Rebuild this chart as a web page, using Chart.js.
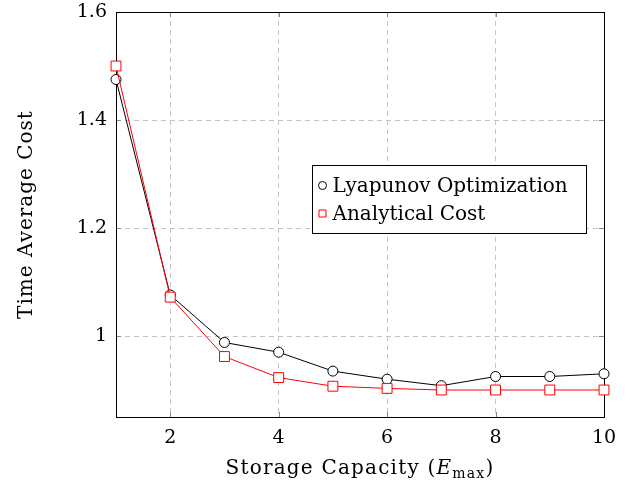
<!DOCTYPE html>
<html>
<head>
<meta charset="utf-8">
<script src="https://cdn.jsdelivr.net/npm/chart.js@4"></script>
<style>
  html, body { margin: 0; padding: 0; background: #fff; }
  #wrap { width: 639px; height: 493px; }
</style>
</head>
<body>
<div id="wrap"><canvas id="costChart" width="639" height="493"></canvas></div>
<script>
// Données
const capacities = [1, 2, 3, 4, 5, 6, 7, 8, 9, 10];
const lyapunovCost = [1.475, 1.076, 0.988, 0.970, 0.935, 0.920, 0.908, 0.925, 0.925, 0.930];
const analyticalCost = [1.500, 1.072, 0.962, 0.923, 0.907, 0.903, 0.900, 0.900, 0.900, 0.900];
const xTicks = [2, 4, 6, 8, 10];
const yTicks = [1, 1.2, 1.4, 1.6];
const seriesNames = ['Lyapunov Optimization', 'Analytical Cost'];
const yTitle = 'Time Average Cost';

const serif = "'DejaVu Serif', 'Liberation Serif', serif";

// Cadre, petits traits de graduation, légende et titres des axes
const pgfLook = {
    id: 'pgfLook',
    beforeDatasetsDraw(chart) {
        const ctx = chart.ctx, a = chart.chartArea;
        const xs = chart.scales.x, ys = chart.scales.y;
        ctx.save();
        ctx.strokeStyle = '#888';
        ctx.lineWidth = 1;
        ctx.beginPath();
        xTicks.forEach(v => {
            const px = Math.round(xs.getPixelForValue(v)) + 0.5;
            ctx.moveTo(px, a.bottom); ctx.lineTo(px, a.bottom - 5);
            ctx.moveTo(px, a.top); ctx.lineTo(px, a.top + 5);
        });
        yTicks.forEach(v => {
            const py = Math.round(ys.getPixelForValue(v)) + 0.5;
            ctx.moveTo(a.left, py); ctx.lineTo(a.left + 5, py);
            ctx.moveTo(a.right, py); ctx.lineTo(a.right - 5, py);
        });
        ctx.stroke();
        ctx.strokeStyle = '#000';
        ctx.strokeRect(Math.round(a.left) + 0.5, Math.round(a.top) + 0.5,
            Math.round(a.right - a.left), Math.round(a.bottom - a.top));
        ctx.restore();
    },
    afterDraw(chart) {
        const ctx = chart.ctx, a = chart.chartArea;
        ctx.save();

        // légende
        const bx = 312.5, by = 165.5, bw = 274, bh = 68;
        ctx.fillStyle = '#fff';
        ctx.fillRect(bx, by, bw, bh);
        ctx.strokeStyle = '#000';
        ctx.lineWidth = 1;
        ctx.strokeRect(bx, by, bw, bh);
        ctx.font = '20px ' + serif;
        ctx.textBaseline = 'middle';
        ctx.textAlign = 'left';
        chart.data.datasets.forEach((ds, i) => {
            const cy = by + 20 + i * 28;
            ctx.strokeStyle = ds.borderColor;
            ctx.beginPath();
            if (ds.pointStyle === 'circle') {
                ctx.arc(bx + 10, cy, 4, 0, Math.PI * 2);
            } else {
                ctx.rect(bx + 6.5, cy - 3.5, 7, 7);
            }
            ctx.stroke();
            ctx.fillStyle = '#000';
            ctx.fillText(seriesNames[i], bx + 20, cy + 1);
        });

        // titre de l'axe x avec indice
        ctx.letterSpacing = '1.2px';
        const parts = [
            { t: 'Storage Capacity (', f: '20px ' + serif, dy: 0 },
            { t: 'E', f: 'italic 20px ' + serif, dy: 0 },
            { t: 'max', f: '14px ' + serif, dy: 4 },
            { t: ')', f: '20px ' + serif, dy: 0 }
        ];
        let total = 0;
        parts.forEach(p => { ctx.font = p.f; p.w = ctx.measureText(p.t).width; total += p.w; });
        let x = (a.left + a.right) / 2 - total / 2;
        ctx.fillStyle = '#000';
        ctx.textBaseline = 'alphabetic';
        parts.forEach(p => {
            ctx.font = p.f;
            ctx.fillText(p.t, x, 474 + p.dy);
            x += p.w;
        });

        // titre de l'axe y
        ctx.letterSpacing = '1px';
        ctx.translate(27, (a.top + a.bottom) / 2);
        ctx.rotate(-Math.PI / 2);
        ctx.font = '20px ' + serif;
        ctx.textAlign = 'center';
        ctx.textBaseline = 'middle';
        ctx.fillText(yTitle, 0, 0);
        ctx.restore();
    }
};

const costData = {
    datasets: [{
        label: seriesNames[0],
        data: capacities.map((c, i) => ({ x: c, y: lyapunovCost[i] })),
        borderColor: '#000',
        backgroundColor: '#fff',
        borderWidth: 1,
        pointStyle: 'circle',
        pointRadius: 5,
        pointBorderWidth: 1,
        order: 2,
        clip: false
    }, {
        label: seriesNames[1],
        data: capacities.map((c, i) => ({ x: c, y: analyticalCost[i] })),
        borderColor: '#ff0000',
        backgroundColor: '#fff',
        borderWidth: 1,
        pointStyle: 'rect',
        pointRadius: 7,
        pointBorderWidth: 1,
        order: 1,
        clip: false
    }]
};

const costConfig = {
    type: 'line',
    data: costData,
    options: {
        responsive: false,
        animation: false,
        events: [],
        layout: { padding: { left: 0, top: 0, right: 35, bottom: 0 } },
        scales: {
            x: {
                type: 'linear',
                min: 1,
                max: 10,
                afterBuildTicks: s => { s.ticks = xTicks.map(v => ({ value: v })); },
                afterFit: s => { s.height = 76; },
                grid: { color: '#c4c4c4', drawTicks: false },
                border: { display: false, dash: [5, 4] },
                ticks: {
                    padding: 10,
                    color: '#000',
                    font: { family: serif, size: 19 },
                    callback: v => String(v)
                }
            },
            y: {
                min: 0.85,
                max: 1.6,
                afterBuildTicks: s => { s.ticks = yTicks.map(v => ({ value: v })); },
                afterFit: s => { s.width = 116; s.paddingTop = 12; s.paddingBottom = 0; },
                grid: { color: '#c4c4c4', drawTicks: false },
                border: { display: false, dash: [5, 4] },
                ticks: {
                    padding: 9,
                    color: '#000',
                    font: { family: serif, size: 19, lineHeight: 1 },
                    callback: v => String(Math.round(v * 10) / 10)
                }
            }
        },
        plugins: {
            legend: { display: false },
            tooltip: { enabled: false }
        }
    },
    plugins: [pgfLook]
};

const costChart = new Chart(document.getElementById('costChart'), costConfig);
</script>
</body>
</html>
